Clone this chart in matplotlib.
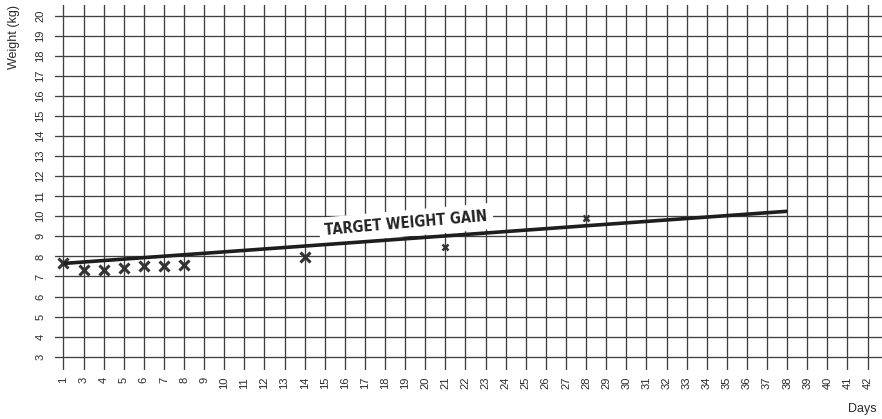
import matplotlib
matplotlib.use("Agg")
import matplotlib.pyplot as plt

# x axis is a row of boxes, labelled 1, 3, 4 ... 42 (no 2)
day_labels = [1] + list(range(3, 43))
weight_ticks = list(range(3, 21))

# weights plotted (kg)
obs_days = [1, 3, 4, 5, 6, 7, 8, 14]
obs_weights = [7.65, 7.3, 7.3, 7.4, 7.5, 7.5, 7.55, 7.95]
late_days = [21, 28]
late_weights = [8.45, 9.9]

# target weight gain line
target_days = [1, 38]
target_weights = [7.65, 10.25]

ink = "#2a2a2a"
plt.rcParams["font.family"] = ["Liberation Sans", "DejaVu Sans"]

fig = plt.figure(figsize=(8.82, 4.19), dpi=100)
ax = fig.add_axes([55 / 882, 49 / 419, 827 / 882, 365 / 419])

pos = lambda days: [day_labels.index(d) for d in days]

ax.set_xlim(-0.42, 40.72)
ax.set_ylim(2.34, 20.53)
ax.set_xticks(range(len(day_labels)))
ax.set_xticklabels([str(d) for d in day_labels], rotation=90, fontsize=8, color=ink)
ax.set_yticks(weight_ticks)
ax.set_yticklabels([str(w) for w in weight_ticks], rotation=90, fontsize=8,
                   color=ink, va="center")
ax.tick_params(length=0, pad=5)
ax.tick_params(axis="y", pad=7)
ax.grid(True, color="#404040", linewidth=0.95)
ax.set_axisbelow(True)
for s in ax.spines.values():
    s.set_visible(False)

ax.plot(pos(target_days), target_weights, color="#1e1e1e", linewidth=2.6,
        solid_capstyle="butt", zorder=6)
ax.plot(pos(obs_days), obs_weights, linestyle="none", marker="x", markersize=7,
        markeredgewidth=2.2, color="#333333", zorder=4)
ax.plot(pos(late_days), late_weights, linestyle="none", marker="x", markersize=5,
        markeredgewidth=1.8, color="#333333", zorder=4)

ax.text(17.05, 9.65, "TARGET WEIGHT GAIN", rotation=5, ha="center", va="center",
        fontsize=10.5, fontweight="bold", fontstretch="condensed", color="#222222",
        family=["DejaVu Sans"],
        bbox=dict(facecolor="white", edgecolor="none", pad=4), zorder=5)

fig.text(14 / 882, 1 - 37 / 419, "Weight (kg)", rotation=90, ha="center",
         va="center", fontsize=9, color=ink)
fig.text(862 / 882, 1 - 409 / 419, "Days", ha="center", va="center",
         fontsize=9, color=ink)

fig.savefig("out.png", dpi=100)
